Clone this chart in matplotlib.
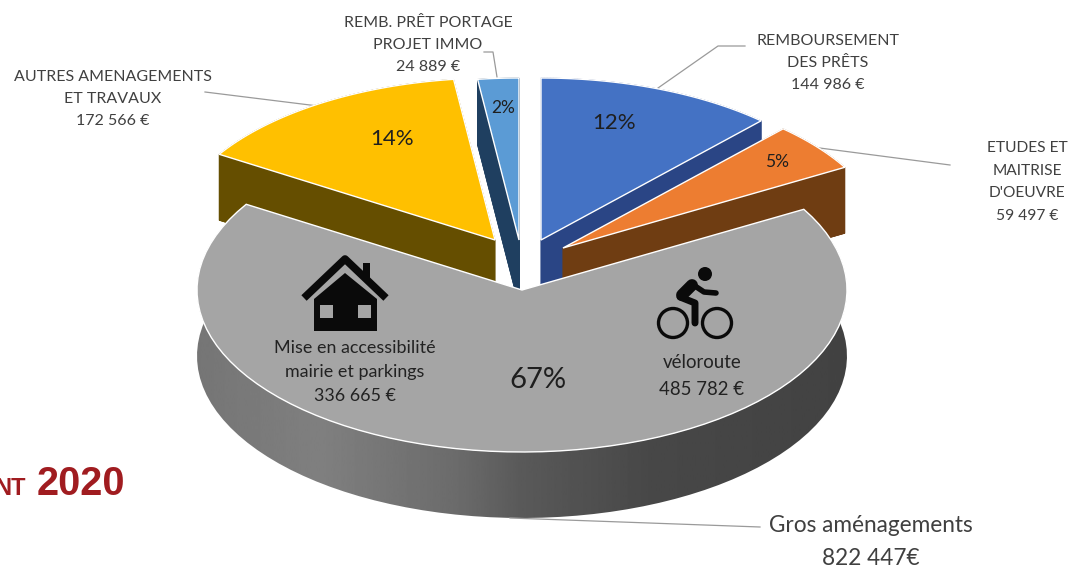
import numpy as np
import matplotlib
matplotlib.use('Agg')
import matplotlib.pyplot as plt
from matplotlib.patches import Polygon, Circle

names = ['REMBOURSEMENT\nDES PRÊTS', "ETUDES ET\nMAITRISE\nD'OEUVRE", 'Gros aménagements',
         'AUTRES AMENAGEMENTS\nET TRAVAUX', 'REMB. PRÊT PORTAGE\nPROJET IMMO']
amounts = [144986, 59497, 822447, 172566, 24889]
amount_labels = ['144 986 €', '59 497 €', '822 447€', '172 566 €', '24 889 €']
pct_labels = ['12%', '5%', '67%', '14%', '2%']

face_colors = ['#4472c4', '#ed7d31', '#a5a5a5', '#ffc000', '#5b9bd5']
wall_colors = ['#2a4585', '#6f3d12', '#777777', '#654e00', '#1f3f60']

# apex of each slice in pixels (explosion)
apex_x = [541, 563, 522, 495, 519]
apex_y = [240, 248, 290, 240, 240]
rx, ry = 325, 162
depth = 66

plt.rcParams['font.family'] = ['Lato', 'DejaVu Sans']

fig = plt.figure(figsize=(10.82, 5.67), dpi=100)
ax = fig.add_axes([0, 0, 1, 1])
ax.set_xlim(0, 1082)
ax.set_ylim(567, 0)
ax.axis('off')


def slice_outline(i, a0, a1):
    th = np.radians(np.linspace(a0, a1, 80))
    xs = apex_x[i] + rx * np.sin(th)
    ys = apex_y[i] - ry * np.cos(th)
    return np.column_stack([np.r_[apex_x[i], xs], np.r_[apex_y[i], ys]])


edges = np.r_[0, np.cumsum(amounts)] / sum(amounts) * 360

# walls first, gray slice last so it sits in front
for i in [0, 1, 3, 4, 2]:
    pts = slice_outline(i, edges[i], edges[i + 1])
    low = pts + [0, depth]
    if i == 2:
        arc = pts[1:]
        wall = np.vstack([arc, low[1:][::-1]])
        grad = np.interp(np.linspace(0, 1, 400), [0, 0.19, 0.4, 0.5, 0.7, 1],
                         [0.46, 0.50, 0.42, 0.35, 0.28, 0.26])
        poly = Polygon(wall, fc='none', ec='none')
        ax.add_patch(poly)
        im = ax.imshow(grad[None, :], cmap='gray', vmin=0, vmax=1, aspect='auto',
                       extent=(arc[:, 0].min(), arc[:, 0].max(), 567, 0), zorder=1)
        im.set_clip_path(poly)
    else:
        ax.add_patch(Polygon(low, fc=wall_colors[i], ec=wall_colors[i], lw=0.5, zorder=1))
        n = len(pts)
        for j in range(n):
            k = (j + 1) % n
            quad = [pts[j], pts[k], low[k], low[j]]
            ax.add_patch(Polygon(quad, fc=wall_colors[i], ec=wall_colors[i], lw=0.5, zorder=1))
    ax.add_patch(Polygon(pts, fc=face_colors[i], ec='white', lw=1.0, zorder=4 if i == 2 else 2))

# leader lines
leaders = [([658, 718, 745], [88, 46, 46]), ([812, 950], [147, 165]), ([510, 760], [518, 527]),
           ([318, 205], [106, 92]), ([497, 493, 484], [77, 52, 52])]
for lx, ly in leaders:
    ax.plot(lx, ly, color='#9a9a9a', lw=0.9, zorder=1.5)

# percent labels
pct_pos = [(614, 123, 16), (777, 162, 12.5), (538, 380, 21), (392, 139, 16), (503, 108, 12.5)]
for (px, py, fs), t in zip(pct_pos, pct_labels):
    ax.text(px, py, t, ha='center', va='center', fontsize=fs, color='#1f1f1f', zorder=6)

# outer labels
txt = '#404040'
ax.text(828, 63, names[0] + '\n' + amount_labels[0], ha='center', va='center', fontsize=11.5,
        color=txt, linespacing=1.72)
ax.text(1027, 182, names[1] + '\n' + amount_labels[1], ha='center', va='center', fontsize=11.2,
        color=txt, linespacing=1.78)
ax.text(871, 542, names[2] + '\n' + amount_labels[2], ha='center', va='center', fontsize=16.3,
        color=txt, linespacing=1.67)
ax.text(113, 99, names[3] + '\n' + amount_labels[3], ha='center', va='center', fontsize=11.5,
        color=txt, linespacing=1.72)
ax.text(428, 45, names[4] + '\n' + amount_labels[4], ha='center', va='center', fontsize=11.5,
        color=txt, linespacing=1.72)

# split of the gray slice
ax.text(355, 372, 'Mise en accessibilité\nmairie et parkings\n336 665 €', ha='center', va='center',
        fontsize=12.9, color='#222222', linespacing=1.63, zorder=6)
ax.text(702, 376, 'véloroute\n485 782 €', ha='center', va='center', fontsize=13.4,
        color='#222222', linespacing=1.7, zorder=6)

# house icon
ic = '#0a0a0a'
ax.plot([304, 345, 386], [298, 259, 298], color=ic, lw=5.5, solid_capstyle='butt', zorder=6)
ax.add_patch(Polygon([[363, 263], [370, 263], [370, 284], [363, 277]], fc=ic, ec='none', zorder=6))
ax.add_patch(Polygon([[314, 299], [345, 273], [377, 299], [377, 331], [314, 331]], fc=ic, ec='none', zorder=6))
for wx in (320, 358):
    ax.add_patch(Polygon([[wx, 305], [wx + 13, 305], [wx + 13, 318], [wx, 318]], fc='#a5a5a5', ec='none', zorder=7))

# bike icon
for cx in (673, 717):
    ax.add_patch(Circle((cx, 323), 14.5, fc='none', ec=ic, lw=2.4, zorder=6))
ax.add_patch(Circle((705, 274), 7, fc=ic, ec='none', zorder=6))
ax.plot([682, 692], [295, 285], color=ic, lw=8.5, solid_capstyle='round', zorder=6)
ax.plot([692, 704, 716], [284, 292, 293], color=ic, lw=4, solid_capstyle='round', zorder=6)
ax.plot([680, 695, 695], [297, 303, 323], color=ic, lw=5, solid_capstyle='round', zorder=6)

# cut title on the left
ax.text(26, 495, 'NT', ha='right', va='baseline', fontsize=17, fontweight='bold', color='#a01c20',
        family=['Liberation Sans', 'DejaVu Sans'])
ax.text(37, 495, '2020', ha='left', va='baseline', fontsize=28.5, fontweight='bold', color='#a01c20',
        family=['Liberation Sans', 'DejaVu Sans'])

ax.set_xlim(0, 1082)
ax.set_ylim(567, 0)
fig.savefig('out.png', dpi=100)
